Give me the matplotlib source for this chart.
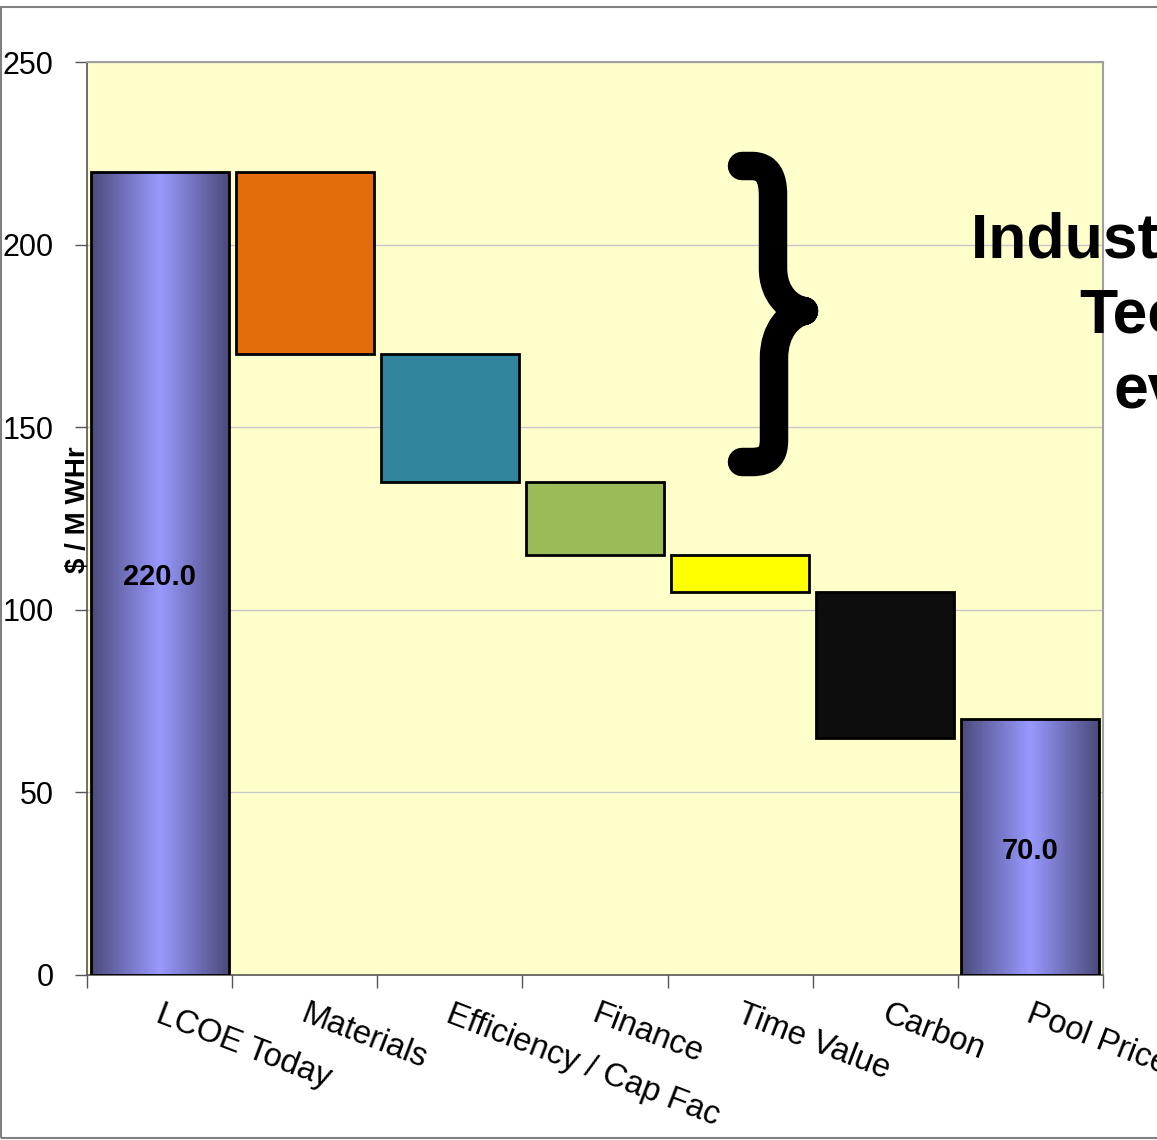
import numpy as np
import matplotlib
matplotlib.use('Agg')
import matplotlib.pyplot as plt
from matplotlib.patches import Rectangle, PathPatch
from matplotlib.path import Path
from matplotlib.colors import LinearSegmentedColormap

plt.rcParams['font.family'] = ['Liberation Sans', 'DejaVu Sans']

# Dados (cascata LCOE -> preço de pool, $ / MWh)
categories = ['LCOE Today', 'Materials', 'Efficiency / Cap Fac', 'Finance',
              'Time Value', 'Carbon', 'Pool Price']
bar_tops = [220, 220, 170, 135, 115, 105, 70]
bar_bottoms = [0, 170, 135, 115, 105, 65, 0]
is_total = [True, False, False, False, False, False, True]
bar_colors = ['none', '#E46C0A', '#31859C', '#9BBB59', '#FFFF00', '#0D0D0D', 'none']
y_ticks = [0, 50, 100, 150, 200, 250]

W, H = 1157, 1140
fig = plt.figure(figsize=(W / 100, H / 100), dpi=100)

def fx(px):
    return px / W

def fy(py):
    return 1 - py / H

# borda da figura
fig.patches.append(Rectangle((fx(1), fy(1138)), 1.2, (1138 - 7) / H,
                             transform=fig.transFigure, fill=False,
                             edgecolor='#808080', linewidth=1.5, zorder=0))

ax = fig.add_axes([fx(87), fy(975), (1103 - 87) / W, (975 - 62) / H])
ax.set_facecolor('#FFFFCC')

x = np.arange(len(categories))
heights = [t - b for t, b in zip(bar_tops, bar_bottoms)]
bars = ax.bar(x, heights, bottom=bar_bottoms, width=0.95, color=bar_colors,
              edgecolor='black', linewidth=2, zorder=3)

# gradiente das barras de total
cmap = LinearSegmentedColormap.from_list('grad', ['#4B4B7C', '#9999FF', '#4B4B7C'])
grad = np.linspace(0, 1, 256).reshape(1, -1)
for bar, tot in zip(bars, is_total):
    if tot:
        x0 = bar.get_x()
        im = ax.imshow(grad, cmap=cmap, aspect='auto', zorder=2.5,
                       extent=[x0, x0 + bar.get_width(), bar.get_y(),
                               bar.get_y() + bar.get_height()])
        im.set_clip_path(bar)
        ax.text(x0 + bar.get_width() / 2, bar.get_y() + bar.get_height() / 2 - 1,
                f'{bar.get_height():.1f}', ha='center', va='center',
                fontsize=21, fontweight='bold', zorder=5)

ax.set_xlim(-0.5, len(categories) - 0.5)
ax.set_ylim(0, 250)
ax.set_yticks(y_ticks)
ax.set_yticklabels([str(v) for v in y_ticks], fontsize=22)
ax.tick_params(axis='y', direction='out', length=9, width=1, color='#555555', pad=15)
ax.set_xticks(np.arange(len(categories) + 1) - 0.5)
ax.set_xticklabels([''] * (len(categories) + 1))
ax.tick_params(axis='x', direction='out', length=9, width=1, color='#555555')

ax.yaxis.grid(True, color='#C8C8C8', linewidth=1)
ax.set_axisbelow(True)
for s in ['left', 'bottom']:
    ax.spines[s].set_color('#555555')
    ax.spines[s].set_linewidth(1.2)
for s in ['top', 'right']:
    ax.spines[s].set_color('#A0A0A0')
    ax.spines[s].set_linewidth(1.5)

# rótulos das categorias (inclinados, começando no centro da categoria)
for i, cat in enumerate(categories):
    ax.text(i + 0.025, -0.026, cat, transform=ax.get_xaxis_transform(),
            rotation=-21, rotation_mode='anchor', ha='left', va='top',
            fontsize=23.5, clip_on=False)

# eixo y
fig.text(fx(85), fy(510), '$ / M WHr', rotation=90, rotation_mode='anchor',
         ha='center', va='baseline', fontsize=20, fontweight='bold')

# chave "}" desenhada como traço grosso com pontas arredondadas
brace_pts = [(742, 166), (752, 166), (768, 166), (773, 178), (773, 195),
             (773, 268), (773, 295), (790, 309), (804, 311),
             (804, 311), (790, 314), (774, 330), (774, 358),
             (774, 440), (774, 455), (768, 462), (752, 462), (742, 462)]
brace_codes = [Path.MOVETO, Path.LINETO, Path.CURVE4, Path.CURVE4, Path.CURVE4,
               Path.LINETO, Path.CURVE4, Path.CURVE4, Path.CURVE4,
               Path.MOVETO, Path.CURVE4, Path.CURVE4, Path.CURVE4,
               Path.LINETO, Path.CURVE4, Path.CURVE4, Path.CURVE4, Path.LINETO]
brace = Path([(fx(px), fy(py)) for px, py in brace_pts], brace_codes)
fig.patches.append(PathPatch(brace, transform=fig.transFigure, fill=False,
                             edgecolor='black', linewidth=20.5,
                             capstyle='round', joinstyle='round', zorder=5))

# texto à direita
fig.text(fx(971), fy(258), 'Industry Learning', fontsize=45,
         fontweight='bold', ha='left', va='baseline')
fig.text(fx(1079), fy(333), 'Technology', fontsize=45,
         fontweight='bold', ha='left', va='baseline')
fig.text(fx(1114), fy(408), 'evolution', fontsize=45,
         fontweight='bold', ha='left', va='baseline')

plt.savefig('out.png', dpi=100)
